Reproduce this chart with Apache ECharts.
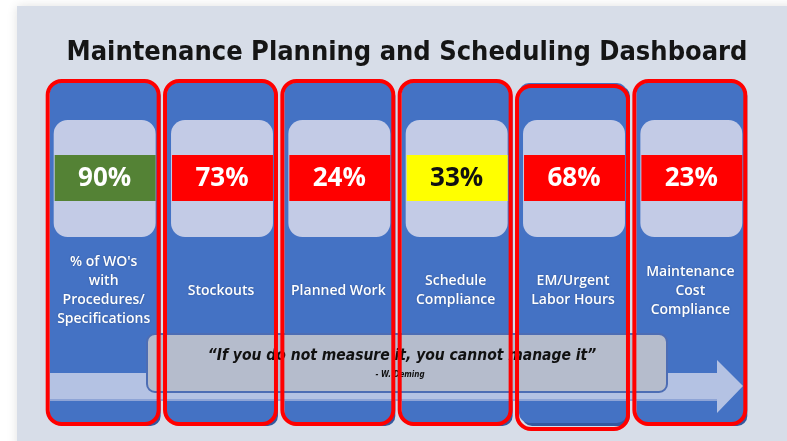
<!DOCTYPE html>
<html>
<head>
<meta charset="utf-8">
<script src="https://cdn.jsdelivr.net/npm/echarts@6/dist/echarts.min.js"></script>
<style>
  html, body { margin: 0; padding: 0; background: #ffffff; }
  #chart { width: 787px; height: 441px; }
</style>
</head>
<body>
<div id="chart"></div>
<script>
// KPI tiles of the dashboard
var categories = [
  "% of WO's\nwith\nProcedures/\nSpecifications",
  'Stockouts',
  'Planned Work',
  'Schedule\nCompliance',
  'EM/Urgent\nLabor Hours',
  'Maintenance\nCost\nCompliance'
]
var values = [90, 73, 24, 33, 68, 23]
var kpiStatus = ['good', 'bad', 'bad', 'warn', 'bad', 'bad']
var statusColors = { good: '#548235', bad: '#ff0000', warn: '#ffff00' }
var statusText = { good: '#ffffff', bad: '#ffffff', warn: '#111111' }

var titleText = 'Maintenance Planning and Scheduling Dashboard'
var quoteText = '\u201cIf you do not measure it, you cannot manage it\u201d'
var quoteAuthor = '- W. Deming'

var chart = echarts.init(document.getElementById('chart'))

var seriesData = values.map(function (v, i) { return [i, v] })

// column geometry from the category axis
var colBox = function (params, api) {
  var idx = api.value(0)
  var c = api.coord([idx, 0])
  var w = api.size([1, 0])[0] * 0.92
  var cs = params.coordSys
  return { idx: idx, x: c[0] - w / 2, cx: c[0], w: w, top: cs.y, h: cs.height }
}

var renderColumn = function (params, api) {
  var b = colBox(params, api)
  var st = kpiStatus[b.idx]
  var val = api.value(1)
  return {
    type: 'group',
    children: [
      { type: 'rect', shape: { x: b.x + 3, y: b.top + 3, width: b.w, height: b.h, r: 10 }, style: { fill: '#34599f' } },
      { type: 'rect', shape: { x: b.x, y: b.top, width: b.w, height: b.h, r: 10 }, style: { fill: '#4472c4' } },
      { type: 'rect', shape: { x: b.x + 4, y: b.top + 37, width: b.w - 6, height: 117, r: 14 }, style: { fill: '#c3cbe6' } },
      { type: 'rect', shape: { x: b.x + 5, y: b.top + 72, width: b.w - 7, height: 46 }, style: { fill: statusColors[st] } },
      {
        type: 'text',
        style: {
          text: val + '%', x: b.cx + 1, y: b.top + 96, align: 'center', verticalAlign: 'middle',
          font: 'bold 26px "Open Sans"', fill: statusText[st]
        }
      },
      {
        type: 'text',
        style: {
          text: categories[b.idx], x: b.cx, y: b.top + 208, align: 'center', verticalAlign: 'middle',
          font: '600 14px "Open Sans"', lineHeight: 19, fill: '#ffffff',
          textShadowColor: 'rgba(0,0,0,0.25)', textShadowBlur: 2
        }
      }
    ]
  }
}

var renderOutline = function (params, api) {
  var b = colBox(params, api)
  var shift = b.idx === 4 ? 5 : 0
  return {
    type: 'rect',
    shape: { x: b.x - 2, y: b.top - 2 + shift, width: b.w + 3, height: b.h + 3, r: 14 },
    style: { fill: 'none', stroke: '#ff0000', lineWidth: 4 }
  }
}

var option = {
  animation: false,
  backgroundColor: '#ffffff',
  grid: { left: 45, right: 38, top: 83, bottom: 18 },
  xAxis: { type: 'category', data: categories, show: false },
  yAxis: { type: 'value', min: 0, max: 100, show: false },
  graphic: {
    elements: [
      {
        type: 'rect', z: 0, shape: { x: 17, y: 6, width: 780, height: 445 },
        style: { fill: '#d7dde8', shadowColor: 'rgba(0,0,0,0.12)', shadowBlur: 10 }
      },
      {
        type: 'text', z: 1,
        style: {
          text: titleText, x: 407, y: 53, align: 'center', verticalAlign: 'middle',
          font: 'bold 27px "DejaVu Sans Condensed"', fill: '#151515'
        }
      },
      // arrow along the bottom
      {
        type: 'polygon', z: 5,
        shape: { points: [[50, 373], [717, 373], [717, 360], [743, 386], [717, 413], [717, 400], [50, 400]] },
        style: { fill: '#b4c2e3' }
      },
      { type: 'rect', z: 5, shape: { x: 50, y: 399, width: 667, height: 2 }, style: { fill: '#8ea4d6' } },
      // quote box
      {
        type: 'rect', z: 6, shape: { x: 147, y: 334, width: 520, height: 58, r: 8 },
        style: { fill: '#b5bccc', stroke: '#4d6db4', lineWidth: 2 }
      },
      {
        type: 'text', z: 7,
        style: {
          text: quoteText, x: 402, y: 356, align: 'center', verticalAlign: 'middle',
          font: 'italic bold 15.5px "DejaVu Sans Condensed"', fill: '#111111'
        }
      },
      {
        type: 'text', z: 7,
        style: {
          text: quoteAuthor, x: 400, y: 375, align: 'center', verticalAlign: 'middle',
          font: 'italic bold 8px "DejaVu Sans Condensed"', fill: '#111111'
        }
      }
    ]
  },
  series: [
    { type: 'custom', z: 2, data: seriesData, renderItem: renderColumn, encode: { x: 0, y: 1 } },
    { type: 'custom', z: 10, data: seriesData, renderItem: renderOutline, encode: { x: 0, y: 1 } }
  ]
}

chart.setOption(option)
</script>
</body>
</html>
